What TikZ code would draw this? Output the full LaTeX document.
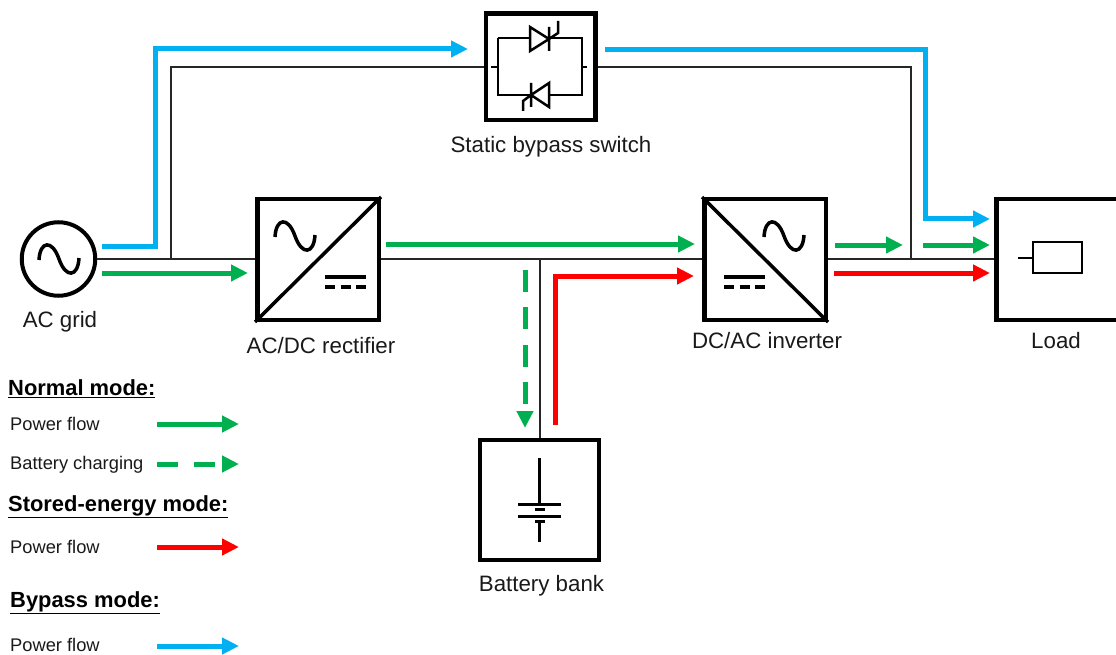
\documentclass[tikz,border=0pt]{standalone}
\usepackage{fontspec}
\setmainfont{Liberation Sans}
\usepackage{tikz}
\usetikzlibrary{arrows.meta}
\definecolor{flowgreen}{HTML}{00B050}
\definecolor{flowblue}{HTML}{00B0F0}
\definecolor{flowred}{HTML}{FF0000}
\tikzset{
  powerbox/.style={draw,line width=4.5pt,rectangle,inner sep=0pt,minimum width=121.5pt,minimum height=120.5pt},
  wire/.style={line width=2pt,black!85},
  sym/.style={line width=2.5pt,line join=miter},
  flow/.style={line width=5pt,-{Triangle[length=17pt,width=16pt]}},
  lbl/.style={font=\fontsize{22.3}{22}\selectfont,text=black!90,inner sep=0pt},
  legtxt/.style={font=\fontsize{18.3}{18}\selectfont,text=black!90,inner sep=0pt,anchor=west},
  leghead/.style={font=\bfseries\fontsize{21.9}{22}\selectfont,inner sep=0pt,anchor=west}
}
\begin{document}
\begin{tikzpicture}[x=1pt,y=-1pt]
\useasboundingbox (0,0) rectangle (1116,655);
\clip (0,0) rectangle (1116,655);
\node[draw,circle,line width=4pt,inner sep=0pt,minimum size=73.5pt] (grid) at (58.5,259) {};
\node[powerbox] (rectifier) at (318,259.5) {};
\node[powerbox] (inverter) at (765,259.5) {};
\node[powerbox,minimum width=200pt] (load) at (1096.5,259.5) {};
\node[powerbox,minimum width=109.5pt,minimum height=106.5pt] (bypass) at (540.5,67) {};
\node[powerbox,minimum width=119pt,minimum height=120pt] (battery) at (539.5,500) {};
\coordinate (gridtap) at (171,259);
\coordinate (loadtap) at (911,259);
\coordinate (battap) at (539.5,259);
\draw[wire] (grid.east) -- (grid.east -| rectifier.west);
\draw[wire] (rectifier.east |- grid.east) -- (inverter.west |- grid.east);
\draw[wire] (inverter.east |- grid.east) -- (load.west |- grid.east);
\draw[wire] (gridtap) |- (bypass.west);
\draw[wire] (bypass.east) -| (loadtap);
\draw[wire] (battap) -- (battery.north);
% converter boxes
\draw[line width=3.5pt] (rectifier.south west) -- (rectifier.north east);
\draw[line width=3.5pt] (inverter.north west) -- (inverter.south east);
\foreach \cx/\cy in {59/259,295/236,784/236}{
  \draw[line width=3.5pt] (\cx-20,\cy+1) .. controls (\cx-19,\cy-18) and (\cx-7,\cy-20) .. (\cx,\cy) .. controls (\cx+7,\cy+20) and (\cx+19,\cy+18) .. (\cx+20,\cy-1);
}
\foreach \cx in {345.5,744.5}{
  \draw[line width=3.5pt] (\cx-20.5,277) -- (\cx+20.5,277);
  \draw[line width=3.5pt] (\cx-20.5,287) -- ++(10,0) (\cx-5,287) -- ++(10,0) (\cx+10.5,287) -- ++(10,0);
}
% thyristors
\draw[sym] (491,67) -- (498,67) (498,38) -- (498,95) -- (531,95) (498,38) -- (530,38) (549,38) -- (582,38) -- (582,95) -- (549,95) (582,67) -- (587,67);
\draw[sym] (530,27) -- (530,51) -- (549,39) -- cycle (549,27) -- (549,51) (549,39) -- (558,33) -- (558,21);
\draw[sym] (549,83) -- (549,107) -- (531,95) -- cycle (531,83) -- (531,107) (531,95) -- (523,101) -- (523,111);
% load and battery
\draw[sym] (1018,258) -- (1033,258) (1033,242) rectangle (1082,273);
\draw[line width=3pt] (539,458) -- (539,504) (518,504) -- (561,504) (535,509) -- (545,509) (518,516) -- (561,516) (535,521) -- (545,521) (539,521) -- (539,542);
% flows
\coordinate (b1) at (102,246);
\coordinate (b2) at (468,49);
\coordinate (b3) at (605,50);
\coordinate (b4) at (990,219);
\draw[flow,flowblue] (b1) -- (155,246) -- (155,49) -- (b2);
\draw[flow,flowblue] (b3) -- (925,50) -- (925,219) -- (b4);
\draw[flow,flowgreen] (102,273) coordinate (g1) -- (248,273) coordinate (g2);
\draw[flow,flowgreen] (386,244) coordinate (g3) -- (695,244) coordinate (g4);
\draw[flow,flowgreen] (835,245) coordinate (g5) -- (903,245) coordinate (g6);
\draw[flow,flowgreen] (923,245) coordinate (g7) -- (990,245) coordinate (g8);
\draw[flow,flowgreen,dash pattern=on 22pt off 15.3pt] (525,270) coordinate (g9) -- (525,428) coordinate (g10);
\draw[flow,flowred] (555,425) coordinate (r1) -- (555,276) -- (694,276) coordinate (r2);
\draw[flow,flowred] (834,273) coordinate (r3) -- (990,273) coordinate (r4);
% labels
\node[lbl] (lbgrid) at (60,322) {AC grid};
\node[lbl] (lbrect) at (321,346) {AC/DC rectifier};
\node[lbl] (lbinv) at (767,341) {DC/AC inverter};
\node[lbl] (lbload) at (1056,341) {Load};
\node[lbl] (lbbypass) at (551,147) {Static bypass switch};
\node[lbl] (lbbat) at (541.5,586) {Battery bank};
% legend
\node[leghead] (hnormal) at (8,389) {\underline{Normal mode:}};
\node[leghead] (hstored) at (8,507) {\underline{Stored-energy mode:}};
\node[leghead] (hbypass) at (10,603) {\underline{Bypass mode:}};
\node[legtxt] (lnormal) at (10,424) {Power flow};
\node[legtxt] (lcharge) at (10,465) {Battery charging};
\node[legtxt] (lstored) at (10,547) {Power flow};
\node[legtxt] (lbypass) at (10,645) {Power flow};
\coordinate (a1) at (157,424); \coordinate (a2) at (239,424);
\coordinate (a3) at (157,464); \coordinate (a4) at (239,464);
\coordinate (a5) at (157,547); \coordinate (a6) at (239,547);
\coordinate (a7) at (157,646); \coordinate (a8) at (239,646);
\draw[flow,flowgreen] (a1) -- (a2);
\draw[flow,flowgreen,dash pattern=on 21pt off 16pt] (a3) -- (a4);
\draw[flow,flowred] (a5) -- (a6);
\draw[flow,flowblue] (a7) -- (a8);
\end{tikzpicture}
\end{document}
